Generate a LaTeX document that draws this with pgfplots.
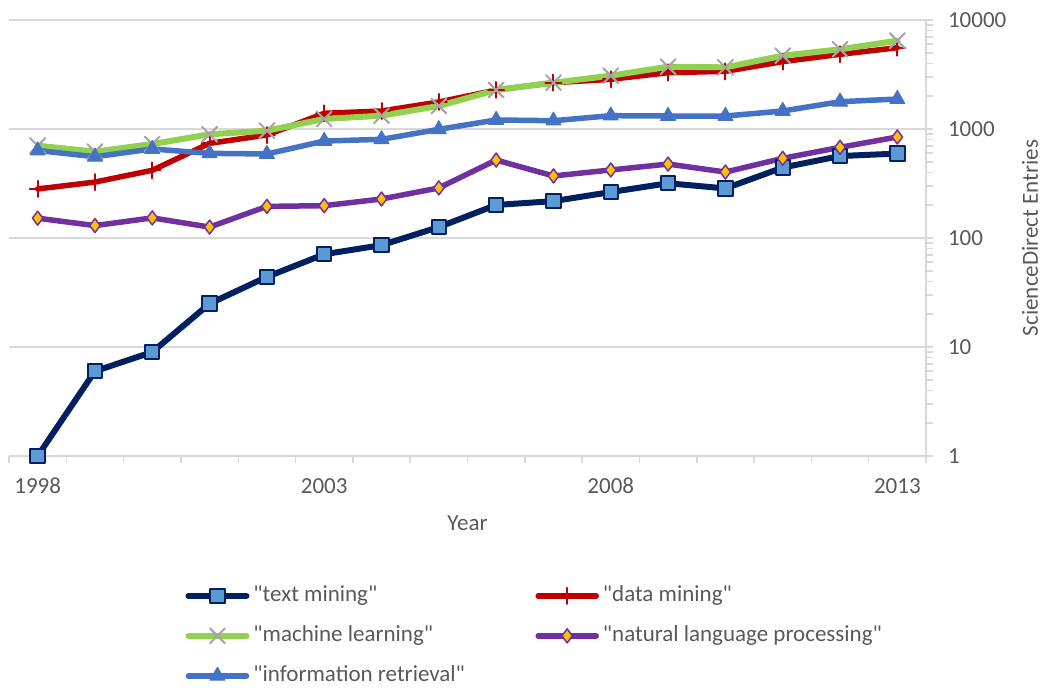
\documentclass[border=0pt]{standalone}
\usepackage{fontspec}
\setmainfont{Carlito}[Ligatures=TeXOff]
\usepackage{pgfplots}
\pgfplotsset{compat=1.18}

\definecolor{gridc}{HTML}{D9D9D9}
\definecolor{txtc}{HTML}{595959}
\definecolor{tmline}{HTML}{002060}
\definecolor{tmfill}{HTML}{5B9BD5}
\definecolor{dmline}{HTML}{C00000}
\definecolor{mlline}{HTML}{92D050}
\definecolor{mlmark}{HTML}{A5A5A5}
\definecolor{nlpline}{HTML}{7030A0}
\definecolor{nlpfill}{HTML}{FFC000}
\definecolor{irline}{HTML}{4472C4}

\newcommand{\chartfont}{\fontsize{11.5}{13.8}\selectfont}

\begin{document}
\begin{tikzpicture}
\begin{axis}[
    scale only axis,
    width=458.5pt, height=218pt,
    xmin=1997.5, xmax=2013.5,
    ymode=log, ymin=1, ymax=10000,
    axis x line*=bottom, axis y line*=right,
    axis line style={draw=gridc, line width=0.75pt},
    ymajorgrids,
    major grid style={draw=gridc, line width=0.75pt},
    tick align=outside,
    major tick length=3.5pt, minor tick length=3.5pt,
    tick style={draw=gridc, line width=0.75pt},
    major x tick style={draw=none},
    xtick={1998,2003,2008,2013},
    xticklabels={1998,2003,2008,2013},
    minor xtick={1997.5,1998.5,1999.5,2000.5,2001.5,2002.5,2003.5,2004.5,2005.5,
        2006.5,2007.5,2008.5,2009.5,2010.5,2011.5,2012.5,2013.5},
    ytick={1,10,100,1000,10000},
    yticklabels={1,10,100,1000,10000},
    minor ytick={2,3,4,5,6,7,8,9,20,30,40,50,60,70,80,90,
        200,300,400,500,600,700,800,900,2000,3000,4000,5000,6000,7000,8000,9000},
    /pgf/number format/assume math mode=true,
    tick label style={font=\chartfont, text=txtc},
    xticklabel style={yshift=-4pt},
    yticklabel style={xshift=4pt},
    xlabel={Year},
    ylabel={ScienceDirect Entries},
    label style={font=\chartfont, text=txtc},
    xlabel style={at={(axis description cs:0.5,-0.1537)}, anchor=center},
    ylabel style={at={(axis description cs:1.1134,0.5)}, anchor=center},
    clip=false,
    legend columns=2,
    legend cell align=left,
    legend image code/.code={\draw[mark repeat=2,mark phase=2]
        plot coordinates {(0pt,0pt) (14.5pt,0pt) (29pt,0pt)};},
    legend style={draw=none, fill=none, at={(axis description cs:0.192,-0.29)},
        anchor=north west, font=\chartfont, text=txtc, inner sep=0pt,
        row sep=7pt,
        nodes={inner sep=1pt, text height=8.5pt, text depth=2.5pt, anchor=west},
        /tikz/every odd column/.append style={column sep=1pt}},
    every axis plot/.append style={line join=round, line cap=round},
]

% "text mining"
\addplot[draw=tmline, line width=3pt, mark=square*,
    mark options={solid, fill=tmfill, draw=tmline, line width=1pt}, mark size=3.6pt]
    coordinates {(1998,1) (1999,6) (2000,9) (2001,25) (2002,44) (2003,71)
        (2004,86) (2005,126) (2006,201) (2007,218) (2008,264) (2009,318)
        (2010,285) (2011,443) (2012,565) (2013,595)};
\addlegendentry{\makebox[140pt][l]{"text mining"}}

% "data mining"
\addplot[draw=dmline, line width=2.75pt, mark=+,
    mark options={solid, draw=dmline, line width=1pt}, mark size=4pt]
    coordinates {(1998,282) (1999,326) (2000,418) (2001,739) (2002,881)
        (2003,1393) (2004,1463) (2005,1770) (2006,2280) (2007,2660)
        (2008,2857) (2009,3286) (2010,3384) (2011,4150) (2012,4843) (2013,5570)};
\addlegendentry{"data mining"}

% "machine learning"
\addplot[draw=mlline, line width=3pt, mark=x,
    mark options={solid, draw=mlmark, line width=1pt}, mark size=5.3pt]
    coordinates {(1998,703) (1999,620) (2000,728) (2001,894) (2002,965)
        (2003,1236) (2004,1325) (2005,1626) (2006,2280) (2007,2660)
        (2008,3085) (2009,3731) (2010,3680) (2011,4706) (2012,5385) (2013,6460)};
\addlegendentry{\makebox[140pt][l]{"machine learning"}}

% "natural language processing"
\addplot[draw=nlpline, line width=2.75pt, mark=diamond*,
    mark options={solid, fill=nlpfill, draw=nlpline, line width=0.75pt}, mark size=3.5pt]
    coordinates {(1998,152) (1999,130) (2000,153) (2001,126) (2002,195)
        (2003,198) (2004,228) (2005,288) (2006,519) (2007,371) (2008,421)
        (2009,477) (2010,403) (2011,538) (2012,679) (2013,845)};
\addlegendentry{"natural language processing"}

% "information retrieval"
\addplot[draw=irline, line width=2.75pt, mark=triangle*,
    mark options={solid, fill=irline, draw=irline, line width=0.5pt}, mark size=4.3pt]
    coordinates {(1998,635) (1999,557) (2000,656) (2001,598) (2002,590)
        (2003,776) (2004,804) (2005,993) (2006,1210) (2007,1192) (2008,1325)
        (2009,1316) (2010,1316) (2011,1463) (2012,1780) (2013,1884)};
\addlegendentry{\makebox[140pt][l]{"information retrieval"}}

\coordinate (bbsw) at (rel axis cs:0,0);
\coordinate (bbne) at (rel axis cs:1,1);
\end{axis}
\pgfresetboundingbox
\path[use as bounding box] ([shift={(-4.5pt,-118pt)}]bbsw) rectangle ([shift={(60pt,10pt)}]bbne);
\end{tikzpicture}
\end{document}
